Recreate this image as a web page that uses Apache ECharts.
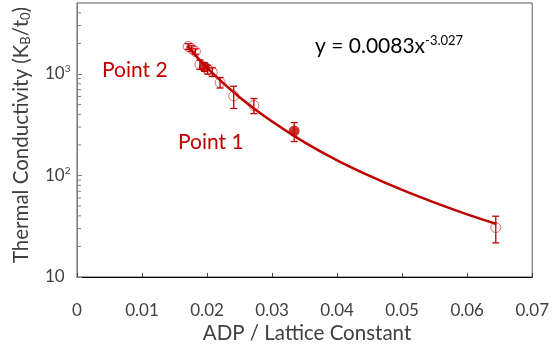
<!DOCTYPE html>
<html><head><meta charset="utf-8">
<script src="https://cdn.jsdelivr.net/npm/echarts@6/dist/echarts.min.js"></script>
<style>html,body{margin:0;padding:0;background:#fff}#c{width:552px;height:351px}</style>
</head><body><div id="c"></div>
<script>
// ADP / lattice constant (x) and thermal conductivity (y, K_B/t_0)
const adp    = [0.0171, 0.0176, 0.0182, 0.0189, 0.0196, 0.0201, 0.0208, 0.0220, 0.0241, 0.0272, 0.0334, 0.0644];
const kappa  = [1866, 1783, 1666, 1241, 1172, 1108, 1046, 825, 607, 490, 274, 30.7];
const kErr   = [120, 110, 100, 130, 110, 110, 100, 98, 150, 83, 58, 9];
const filledIdx = [4, 10];           // Point 2, Point 1
// Power-law trendline
const trendX = [0.0170, 0.0200, 0.0250, 0.0300, 0.0350, 0.0400, 0.0450, 0.0500, 0.0550, 0.0600, 0.0645];
const trendY = [1890, 1150, 590, 340, 212, 141, 99, 72, 54, 41.4, 33.3];
const minorTickVals = [20,30,40,50,60,70,80,90,200,300,400,500,600,700,800,900,2000,3000,4000];

const RED = '#c00000';
const FONT = 'Lato, "Open Sans", sans-serif';
const chart = echarts.init(document.getElementById('c'));

const openPts = [], filledPts = [];
adp.forEach((x, i) => (filledIdx.includes(i) ? filledPts : openPts).push([x, kappa[i]]));
const errData = adp.map((x, i) => [x, kappa[i] - kErr[i], kappa[i] + kErr[i]]);

chart.setOption({
  animation: false,
  textStyle: { fontFamily: FONT },
  grid: { left: 77, right: 14.5, top: 3, bottom: 74, show: true, borderColor: '#595959', borderWidth: 1 },
  xAxis: {
    type: 'value', min: 0, max: 0.07, interval: 0.01,
    axisLine: { lineStyle: { color: '#000', width: 1 } },
    axisTick: { inside: true, length: 4, lineStyle: { color: '#404040' } },
    splitLine: { show: false },
    axisLabel: { margin: 25, fontSize: 17, color: '#404040', fontFamily: FONT,
      formatter: v => v === 0 ? '0' : v.toFixed(2) }
  },
  yAxis: {
    type: 'log', logBase: 10, min: 10, max: 5000,
    axisLine: { show: true, lineStyle: { color: '#808080', width: 1 } },
    axisTick: { inside: true, length: 5, lineStyle: { color: '#808080' } },
    splitLine: { show: false },
    axisLabel: { showMaxLabel: false, align: 'left', margin: 32, fontSize: 17, color: '#404040', fontFamily: FONT,
      formatter: v => v === 10 ? '10' : '10{s|' + Math.round(Math.log10(v)) + '}',
      rich: { s: { fontSize: 10, color: '#404040', fontFamily: FONT, padding: [0, 0, 10, 0] } } }
  },
  series: [
    { type: 'custom', name: 'minorTicks', data: minorTickVals.map(v => [0, v]), silent: true, z: 1,
      renderItem: (params, api) => {
        const p = api.coord([0, api.value(1)]);
        return { type: 'line', shape: { x1: p[0], y1: p[1], x2: p[0] + 4, y2: p[1] },
                 style: { stroke: '#808080', lineWidth: 1 } };
      } },
    { type: 'custom', name: 'err', data: errData, silent: true, z: 3,
      renderItem: (params, api) => {
        const lo = api.coord([api.value(0), api.value(1)]);
        const hi = api.coord([api.value(0), api.value(2)]);
        const w = 3.5, st = { stroke: RED, lineWidth: 1.3 };
        return { type: 'group', children: [
          { type: 'line', shape: { x1: lo[0], y1: lo[1], x2: hi[0], y2: hi[1] }, style: st },
          { type: 'line', shape: { x1: lo[0] - w, y1: lo[1], x2: lo[0] + w, y2: lo[1] }, style: st },
          { type: 'line', shape: { x1: hi[0] - w, y1: hi[1], x2: hi[0] + w, y2: hi[1] }, style: st }
        ] };
      } },
    { type: 'scatter', name: 'open', data: openPts, symbol: 'circle', symbolSize: 10, z: 4,
      itemStyle: { color: 'rgba(255,255,255,0)', borderColor: 'rgba(192,0,0,0.7)', borderWidth: 1 } },
    { type: 'line', name: 'trend', data: trendX.map((x, i) => [x, trendY[i]]), smooth: 0.4, showSymbol: false, z: 5,
      lineStyle: { color: RED, width: 2.5 } },
    { type: 'scatter', name: 'filled', data: filledPts, symbol: 'circle', symbolSize: 11, z: 6,
      itemStyle: { color: RED, borderColor: RED, borderWidth: 0 } }
  ],
  graphic: [
    { type: 'text', left: 315, top: 34, z: 10, style: { text: '{a|y = 0.0083x}{b|-3.027}',
      rich: { a: { fontSize: 21, fill: '#000', fontFamily: FONT }, b: { fontSize: 13, fill: '#000', fontFamily: FONT, padding: [0, 0, 12, 0] } } } },
    { type: 'text', left: 102, top: 60, z: 10, style: { text: 'Point 2', fontSize: 21, fill: RED, fontFamily: FONT } },
    { type: 'text', left: 178, top: 132, z: 10, style: { text: 'Point 1', fontSize: 21, fill: RED, fontFamily: FONT } },
    { type: 'text', x: 307, y: 333, z: 10, style: { text: 'ADP / Lattice Constant', fontSize: 20.5, fill: '#404040',
      fontFamily: FONT, align: 'center', verticalAlign: 'middle' } },
    { type: 'text', x: 21, y: 135, rotation: Math.PI / 2, z: 10, style: { text: 'Thermal Conductivity (K{sub|B}/t{sub|0})',
      align: 'center', verticalAlign: 'middle',
      rich: { sub: { fontSize: 13, fill: '#404040', fontFamily: FONT, padding: [9, 0, 0, 0] } },
      fontSize: 20.5, fill: '#404040', fontFamily: FONT } }
  ]
});
</script></body></html>
